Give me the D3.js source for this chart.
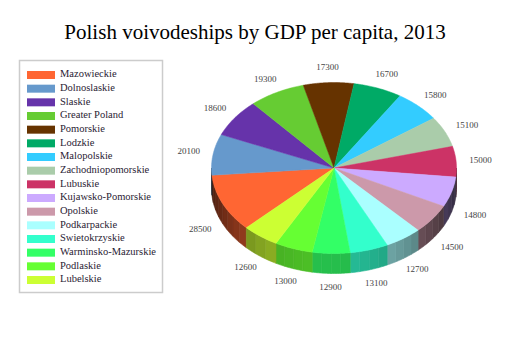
<!DOCTYPE html>
<html>
<head>
<meta charset="utf-8">
<script src="https://cdn.jsdelivr.net/npm/d3@7"></script>
<style>
  html, body { margin: 0; padding: 0; background: #fff; }
  svg { display: block; }
</style>
</head>
<body>
<script>
const regions = ["Mazowieckie","Dolnoslaskie","Slaskie","Greater Poland","Pomorskie","Lodzkie","Malopolskie","Zachodniopomorskie","Lubuskie","Kujawsko-Pomorskie","Opolskie","Podkarpackie","Swietokrzyskie","Warminsko-Mazurskie","Podlaskie","Lubelskie"];
const gdp = [28500,20100,18600,19300,17300,16700,15800,15100,15000,14800,14500,12700,13100,12900,13000,12600];
const colors = ["#FF6633","#6699CC","#6633AA","#66CC33","#663300","#00AA66","#33CCFF","#AACCAA","#CC3366","#CCAAFF","#CC99AA","#AAFFFF","#33FFCC","#33FF66","#66FF33","#CCFF33"];
const title = "Polish voivodeships by GDP per capita, 2013";

const W = 520, H = 350;
const cx = 334, cy = 168, rx = 122.5, ry = 85.5, depth = 20;
const lrx = 147, lry = 100;
const startDeg = 225.7; // pie angle (0 = 12 o'clock, clockwise)

const svg = d3.select("body").append("svg").attr("width", W).attr("height", H);

svg.append("text")
  .attr("x", 255).attr("y", 39)
  .attr("text-anchor", "middle")
  .style("font-family", "'Liberation Serif', 'Times New Roman', serif")
  .style("font-size", "21px")
  .attr("fill", "#000")
  .text(title);

const data = regions.map((r, i) => ({ name: r, value: gdp[i], color: colors[i] }));
const start = startDeg * Math.PI / 180;
const pie = d3.pie().sort(null).value(d => d.value).startAngle(start).endAngle(start + 2 * Math.PI);
const arcs = pie(data);

const px = a => cx + rx * Math.sin(a);
const py = a => cy - ry * Math.cos(a);

// side walls: visible where -cos(a) >= 0, i.e. pie angle in [PI/2, 3PI/2] mod 2PI
const sideG = svg.append("g");
const twoPi = 2 * Math.PI;
function shade(color, a) {
  const theta = a - Math.PI / 2; // screen angle
  const c = Math.max(0, Math.cos(theta - 95 * Math.PI / 180));
  const f = 0.25 + 0.5 * Math.pow(c, 1.5);
  const rgb = d3.rgb(color);
  return d3.rgb(rgb.r * f, rgb.g * f, rgb.b * f).formatHex();
}
arcs.forEach(d => {
  // check ranges shifted by k*2PI
  for (let k = -1; k <= 2; k++) {
    const lo = Math.PI / 2 + k * twoPi, hi = 3 * Math.PI / 2 + k * twoPi;
    const a0 = Math.max(d.startAngle, lo), a1 = Math.min(d.endAngle, hi);
    if (a1 <= a0) continue;
    const n = Math.max(1, Math.round((a1 - a0) / (5 * Math.PI / 180)));
    for (let j = 0; j < n; j++) {
      const s = a0 + (a1 - a0) * j / n, e = a0 + (a1 - a0) * (j + 1) / n;
      const pts = [];
      const m = 6;
      for (let q = 0; q <= m; q++) { const a = s + (e - s) * q / m; pts.push([px(a), py(a)]); }
      for (let q = m; q >= 0; q--) { const a = s + (e - s) * q / m; pts.push([px(a), py(a) + depth]); }
      const col = shade(d.data.color, (s + e) / 2);
      sideG.append("path")
        .attr("d", d3.line()(pts) + "Z")
        .attr("fill", col)
        .attr("stroke", col)
        .attr("stroke-width", 0.6);
    }
  }
});

// top slices
const topG = svg.append("g");
arcs.forEach(d => {
  const pts = [[cx, cy]];
  const n = Math.max(8, Math.ceil((d.endAngle - d.startAngle) / 0.01));
  for (let q = 0; q <= n; q++) {
    const a = d.startAngle + (d.endAngle - d.startAngle) * q / n;
    pts.push([px(a), py(a)]);
  }
  topG.append("path")
    .attr("d", d3.line()(pts) + "Z")
    .attr("fill", d.data.color)
    .attr("stroke", d.data.color)
    .attr("stroke-width", 0.5);
});

// value labels
const labG = svg.append("g");
arcs.forEach(d => {
  const mid = (d.startAngle + d.endAngle) / 2;
  const down = -Math.cos(mid) > 0;
  labG.append("text")
    .attr("x", cx + lrx * Math.sin(mid))
    .attr("y", cy - lry * Math.cos(mid) + (down ? depth : 0))
    .attr("text-anchor", "middle")
    .attr("dominant-baseline", "middle")
    .style("font-family", "'Liberation Serif', 'Times New Roman', serif")
    .style("font-size", "9px")
    .attr("fill", "#444")
    .text(d.data.value);
});

// legend
const legG = svg.append("g");
legG.append("rect")
  .attr("x", 19.5).attr("y", 60.5).attr("width", 143).attr("height", 232)
  .attr("fill", "#fff").attr("stroke", "#ccc").attr("stroke-width", 1.5);
const ly = d3.scaleLinear().domain([0, regions.length - 1]).range([75, 280]);
regions.forEach((r, i) => {
  legG.append("rect")
    .attr("x", 27).attr("y", ly(i) - 4).attr("width", 28).attr("height", 8)
    .attr("fill", colors[i]);
  legG.append("text")
    .attr("x", 60).attr("y", ly(i))
    .attr("dominant-baseline", "middle")
    .style("font-family", "'Liberation Serif', 'Times New Roman', serif")
    .style("font-size", "10.5px")
    .attr("fill", "#2a2233")
    .text(r);
});
</script>
</body>
</html>
